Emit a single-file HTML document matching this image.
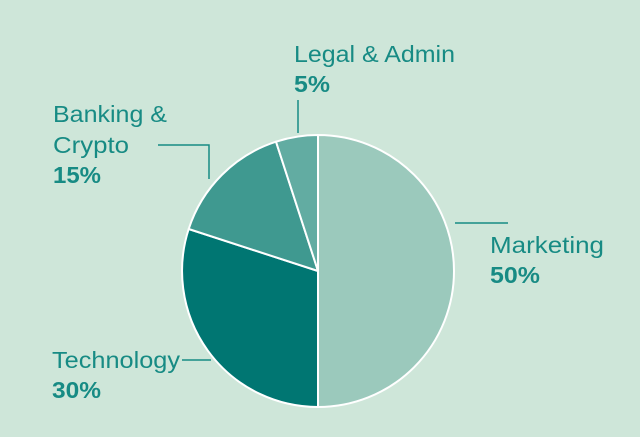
<!DOCTYPE html>
<html><head><style>
body{margin:0;background:#cee6d9;}
svg{display:block}
text{font-family:"Liberation Sans",sans-serif;font-size:23px;fill:#178b84}
.b{font-weight:bold}
</style></head><body>
<svg width="640" height="437" viewBox="0 0 640 437">
<rect width="640" height="437" fill="#cee6d9"/>
<g stroke="#fff" stroke-width="2" stroke-linejoin="round">
<path d="M318,271 L318,135 A136,136 0 0 1 318,407 Z" fill="#9bc9bc"/>
<path d="M318,271 L318,407 A136,136 0 0 1 188.7,229 Z" fill="#007672"/>
<path d="M318,271 L188.7,229 A136,136 0 0 1 276,141.7 Z" fill="#3f9990"/>
<path d="M318,271 L276,141.7 A136,136 0 0 1 318,135 Z" fill="#62aca2"/>
</g>
<g stroke="#178b84" stroke-width="1.5" fill="none">
<path d="M298,100 V133"/>
<path d="M158,145 H209 V179"/>
<path d="M455,223 H508"/>
<path d="M182,360 H211"/>
</g>
<g lengthAdjust="spacingAndGlyphs">
<text x="294" y="62" textLength="161" lengthAdjust="spacingAndGlyphs">Legal &amp; Admin</text>
<text x="294" y="92" class="b" textLength="36" lengthAdjust="spacingAndGlyphs">5%</text>
<text x="53" y="122" textLength="114" lengthAdjust="spacingAndGlyphs">Banking &amp;</text>
<text x="53" y="153" textLength="76" lengthAdjust="spacingAndGlyphs">Crypto</text>
<text x="53" y="183" class="b" textLength="48" lengthAdjust="spacingAndGlyphs">15%</text>
<text x="490" y="253" textLength="114" lengthAdjust="spacingAndGlyphs">Marketing</text>
<text x="490" y="283" class="b" textLength="50" lengthAdjust="spacingAndGlyphs">50%</text>
<text x="52" y="368" textLength="128" lengthAdjust="spacingAndGlyphs">Technology</text>
<text x="52" y="398" class="b" textLength="49" lengthAdjust="spacingAndGlyphs">30%</text>
</g>
</svg>
</body></html>
